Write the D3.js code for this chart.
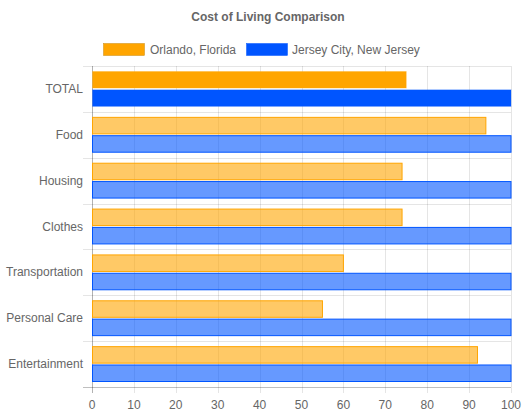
<!DOCTYPE html>
<html><head><meta charset="utf-8">
<script src="https://cdn.jsdelivr.net/npm/d3@7"></script>
<style>body{margin:0;background:#fff;}svg{display:block;font-family:"Liberation Sans",Arial,Helvetica,sans-serif;}</style>
</head><body>
<svg id="c" width="524" height="418"></svg>
<script>
const categories = ["TOTAL","Food","Housing","Clothes","Transportation","Personal Care","Entertainment"];
const seriesNames = ["Orlando, Florida","Jersey City, New Jersey"];
const orlando = [75,94,74,74,60,55,92];
const jersey = [100,100,100,100,100,100,100];
const xTicks = [0,10,20,30,40,50,60,70,80,90,100];

const svg = d3.select("#c");
const L=92,R=511,T=66,B=387;
const x = d3.scaleLinear().domain([0,100]).range([L,R]);
const y = d3.scaleBand().domain(categories).range([T,B]);
const inner = d3.scaleBand().domain([0,1]).range([0,y.bandwidth()*0.8]);

const fillSolid=["#FFA500","#0055FF"], fillSoft=["rgba(255,165,0,0.6)","rgba(0,85,255,0.6)"], strokeC=["#FFA500","#0055FF"];

svg.append("text").attr("x",268).attr("y",21).attr("text-anchor","middle")
  .attr("font-size",12).attr("font-weight","bold").attr("fill","#666").text("Cost of Living Comparison");

// legend
const leg=[{x:103,tx:150},{x:246,tx:292}];
seriesNames.forEach((n,i)=>{
  svg.append("rect").attr("x",leg[i].x+0.5).attr("y",43.5).attr("width",41).attr("height",12)
    .attr("fill",fillSolid[i]).attr("stroke",i===0?"#c98a10":strokeC[i]).attr("stroke-width",0.5);
  svg.append("text").attr("x",leg[i].tx).attr("y",53.5).attr("font-size",12).attr("fill","#666").text(n);
});

// vertical grid
const g=svg.append("g");
xTicks.forEach(t=>{
  g.append("line").attr("x1",Math.round(x(t))+0.5).attr("x2",Math.round(x(t))+0.5).attr("y1",T).attr("y2",B+6)
   .attr("stroke",t===0?"rgba(0,0,0,0.3)":"rgba(0,0,0,0.1)");
  g.append("text").attr("x",x(t)).attr("y",409).attr("text-anchor","middle").attr("font-size",12).attr("fill","#666").text(t);
});
// horizontal grid
categories.concat(["__end"]).forEach((c,i)=>{
  const yy = i<categories.length? y(c) : B;
  g.append("line").attr("x1",L-9).attr("x2",R).attr("y1",Math.round(yy)+0.5).attr("y2",Math.round(yy)+0.5)
   .attr("stroke",i===categories.length?"rgba(0,0,0,0.25)":"rgba(0,0,0,0.1)");
});
// y labels
categories.forEach(c=>{
  svg.append("text").attr("x",83).attr("y",y(c)+y.bandwidth()/2+4).attr("text-anchor","end")
    .attr("font-size",12).attr("fill","#666").text(c);
});

// bars
const series=[orlando,jersey];
categories.forEach((c,ci)=>{
  series.forEach((s,si)=>{
    const bw=inner.bandwidth()*0.9;
    const y0=y(c)+y.bandwidth()*0.1+inner(si)+inner.bandwidth()*0.05;
    const solid = ci===0;
    svg.append("rect").attr("x",x(0)+0.5).attr("y",y0).attr("width",x(s[ci])-x(0)-0.5).attr("height",bw)
      .attr("fill",solid?fillSolid[si]:fillSoft[si]).attr("stroke",strokeC[si]).attr("stroke-width",1)
      .attr("stroke-opacity",solid?0.3:1);
  });
});
</script>
</body></html>
